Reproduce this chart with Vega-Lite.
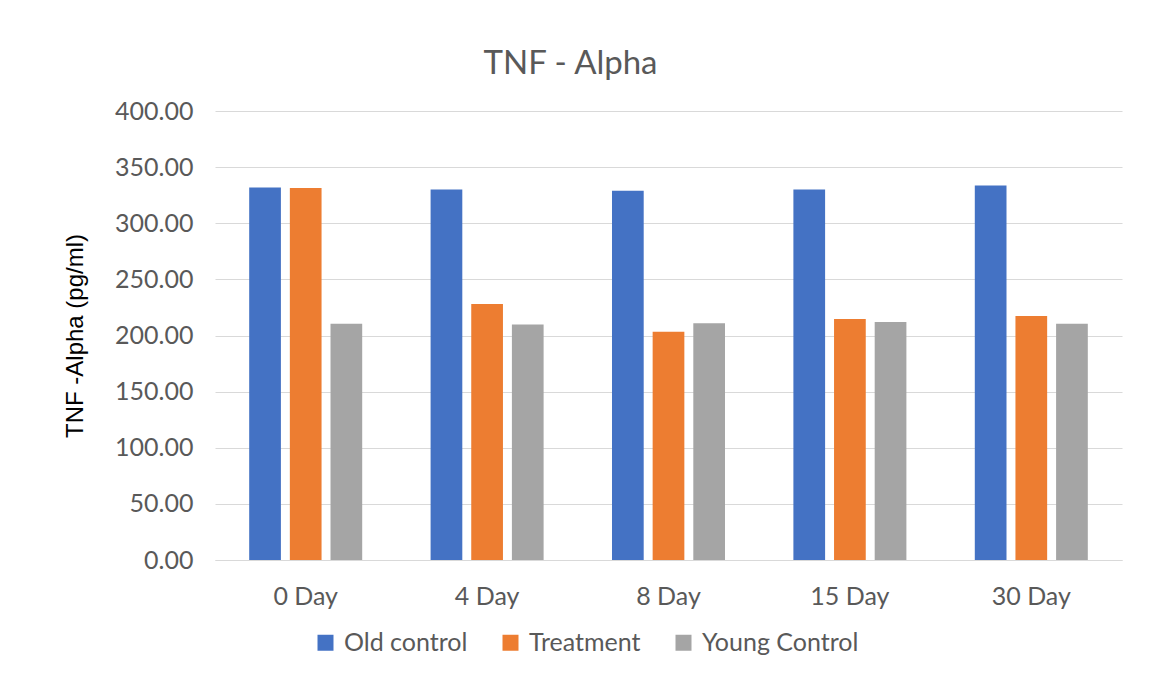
{
  "$schema": "https://vega.github.io/schema/vega-lite/v6.json",
  "autosize": {"type": "none"},
  "padding": {"left": 215, "top": 111, "right": 32, "bottom": 119},
  "width": 907,
  "height": 449,
  "background": "white",
  "title": {"text": "TNF - Alpha", "fontSize": 33, "font": "Lato", "fontWeight": "normal", "color": "#595959", "offset": 18, "anchor": "middle", "dx": -98},
  "data": {"values": [
    {"day": "0 Day", "group": "Old control", "value": 331.9},
    {"day": "0 Day", "group": "Treatment", "value": 331.3},
    {"day": "0 Day", "group": "Young Control", "value": 210.4},
    {"day": "4 Day", "group": "Old control", "value": 330.1},
    {"day": "4 Day", "group": "Treatment", "value": 228.0},
    {"day": "4 Day", "group": "Young Control", "value": 209.8},
    {"day": "8 Day", "group": "Old control", "value": 328.9},
    {"day": "8 Day", "group": "Treatment", "value": 203.3},
    {"day": "8 Day", "group": "Young Control", "value": 211.0},
    {"day": "15 Day", "group": "Old control", "value": 330.1},
    {"day": "15 Day", "group": "Treatment", "value": 214.6},
    {"day": "15 Day", "group": "Young Control", "value": 212.0},
    {"day": "30 Day", "group": "Old control", "value": 333.7},
    {"day": "30 Day", "group": "Treatment", "value": 217.3},
    {"day": "30 Day", "group": "Young Control", "value": 210.4}
  ]},
  "mark": {"type": "bar"},
  "encoding": {
    "x": {
      "field": "day", "type": "nominal", "sort": ["0 Day", "4 Day", "8 Day", "15 Day", "30 Day"],
      "scale": {"paddingInner": 0.377, "paddingOuter": 0.1885},
      "axis": {"title": null, "labelAngle": 0, "labelFontSize": 25, "labelFont": "Lato", "labelColor": "#595959", "ticks": false, "domainColor": "#d9d9d9", "domainWidth": 1.2, "labelPadding": 24, "grid": false}
    },
    "xOffset": {"field": "group", "type": "nominal", "scale": {"paddingInner": 0.22, "paddingOuter": 0}},
    "y": {
      "field": "value", "type": "quantitative",
      "scale": {"domain": [0, 400], "nice": false},
      "axis": {"title": "TNF -Alpha (pg/ml)", "titleFontSize": 24, "titleFont": "Liberation Sans", "titleFontWeight": "normal", "titleColor": "#000000", "titlePadding": 27, "format": ".2f", "values": [0, 50, 100, 150, 200, 250, 300, 350, 400], "labelOverlap": false, "labelFontSize": 25, "labelFont": "Lato", "labelColor": "#595959", "labelPadding": 22, "ticks": false, "domain": false, "gridColor": "#d9d9d9", "gridWidth": 1.2}
    },
    "color": {
      "field": "group", "type": "nominal",
      "scale": {"domain": ["Old control", "Treatment", "Young Control"], "range": ["#4472c4", "#ed7d31", "#a5a5a5"]},
      "legend": {"title": null, "orient": "none", "legendX": 98, "legendY": 519, "direction": "horizontal", "symbolType": "square", "symbolSize": 256, "symbolStrokeWidth": 0, "symbolOpacity": 1, "labelFontSize": 25, "labelFont": "Lato", "labelColor": "#595959", "columnPadding": 30, "labelOffset": 6}
    }
  },
  "config": {"view": {"stroke": null}}
}
